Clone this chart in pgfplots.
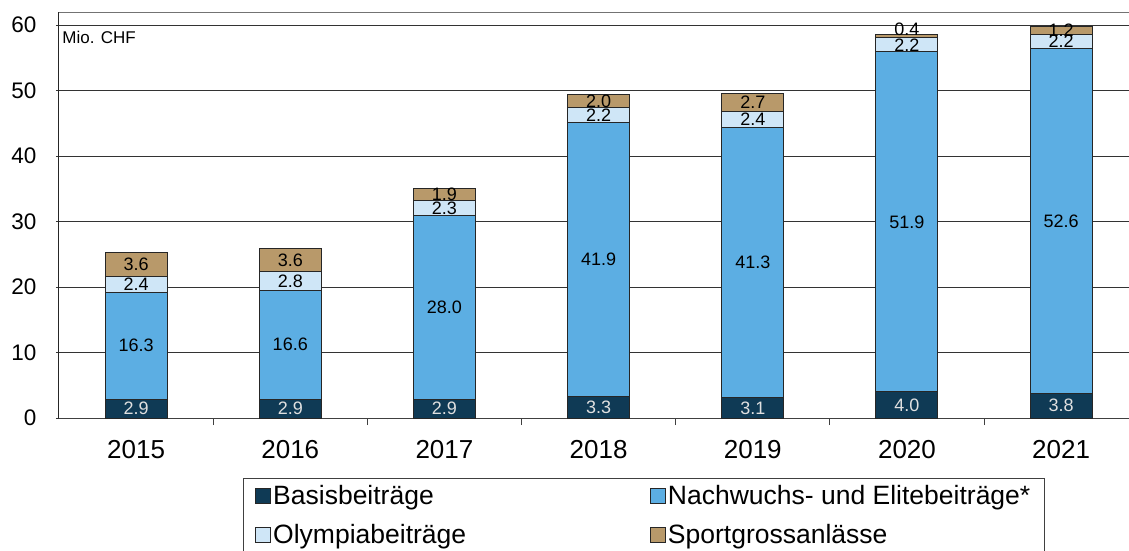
\documentclass[border=0pt]{standalone}
\usepackage{fontspec}
\setmainfont{Liberation Sans}
\usepackage{pgfplots}
\pgfplotsset{compat=1.18}
\definecolor{cBasis}{HTML}{0F3A55}
\definecolor{cNach}{HTML}{5CAEE3}
\definecolor{cOly}{HTML}{CFE6F7}
\definecolor{cSport}{HTML}{B8996A}
\begin{document}
\begin{tikzpicture}
\useasboundingbox (-59pt,-132pt) rectangle (1070pt,418pt);
\pgfplotsset{
  common/.style={
    at={(0pt,0pt)}, anchor=south west,
    scale only axis, width=1070pt, height=406pt,
    xmin=-0.5, xmax=6.44, ymin=0, ymax=62,
  }
}
\begin{axis}[
  common,
  ybar stacked, bar width=62pt,
  axis x line*=bottom, axis y line*=left,
  x axis line style={draw=black!75, line width=1pt, -},
  y axis line style={draw=black!85, line width=1pt, -},
  xtick={0,...,6},
  xticklabels={2015,2016,2017,2018,2019,2020,2021},
  major x tick style={draw=none},
  minor xtick={0.5,1.5,...,5.5},
  minor x tick style={draw=black!75, line width=1pt},
  minor tick length=7pt,
  tick align=outside,
  ytick={0,10,...,60},
  major y tick style={draw=black!80, line width=1pt},
  major tick length=3pt,
  ymajorgrids, grid style={draw=black!80, line width=0.9pt},
  extra y ticks={62}, extra y tick labels={},
  extra y tick style={grid=major, major grid style={draw=black!55, line width=1pt}, major tick length=0pt},
  /pgf/number format/assume math mode=true,
  yticklabel style={xshift=-16pt, font=\fontsize{22.5}{27}\selectfont},
  xticklabel style={yshift=-16pt, font=\fontsize{26}{31}\selectfont},
  legend columns=2,
  legend cell align=left,
  legend style={at={(0.172,-0.148)}, anchor=north west, draw=black!75, line width=0.8pt,
    font=\fontsize{26.5}{31}\selectfont, inner xsep=12pt, inner ysep=5pt,
    nodes={inner xsep=2pt},
    /tikz/every even column/.append style={column sep=182pt},
    row sep=14pt},
  legend image code/.code={\draw[#1, draw=black!85, line width=0.8pt] (0pt,-7.5pt) rectangle (15pt,7.5pt);},
  clip=false,
]
\addplot[fill=cBasis, draw=black!85, line width=1pt] coordinates {(0,2.9) (1,2.9) (2,2.9) (3,3.3) (4,3.1) (5,4.0) (6,3.8)};
\addlegendentry{Basisbeiträge}
\addplot[fill=cNach, draw=black!85, line width=1pt] coordinates {(0,16.3) (1,16.6) (2,28.0) (3,41.9) (4,41.3) (5,51.9) (6,52.6)};
\addlegendentry{Nachwuchs- und Elitebeiträge*}
\addplot[fill=cOly, draw=black!85, line width=1pt] coordinates {(0,2.4) (1,2.8) (2,2.3) (3,2.2) (4,2.4) (5,2.2) (6,2.2)};
\addlegendentry{Olympiabeiträge}
\addplot[fill=cSport, draw=black!85, line width=1pt] coordinates {(0,3.6) (1,3.6) (2,1.9) (3,2.0) (4,2.7) (5,0.4) (6,1.2)};
\addlegendentry{Sportgrossanlässe}
\node[anchor=west, inner sep=0pt, font=\fontsize{17}{20}\selectfont] at (rel axis cs:0.003,0.937) {Mio. CHF};
\end{axis}
\begin{axis}[
  common, hide axis,
  nodes near coords, point meta=explicit symbolic,
  every node near coord/.append style={anchor=center, font=\fontsize{18}{21}\selectfont, inner sep=0pt},
]
\addplot[draw=none, mark=none, every node near coord/.append style={text=black!12}] coordinates {
 (0,1.45)[2.9] (1,1.45)[2.9] (2,1.45)[2.9] (3,1.65)[3.3] (4,1.55)[3.1] (5,2.0)[4.0] (6,1.9)[3.8]};
\addplot[draw=none, mark=none, every node near coord/.append style={text=black}] coordinates {
 (0,11.05)[16.3] (1,11.2)[16.6] (2,16.9)[28.0] (3,24.25)[41.9] (4,23.75)[41.3] (5,29.95)[51.9] (6,30.1)[52.6]};
\addplot[draw=none, mark=none, every node near coord/.append style={text=black}] coordinates {
 (0,20.4)[2.4] (1,20.9)[2.8] (2,32.05)[2.3] (3,46.3)[2.2] (4,45.6)[2.4] (5,57.0)[2.2] (6,57.5)[2.2]};
\addplot[draw=none, mark=none, every node near coord/.append style={text=black}] coordinates {
 (0,23.4)[3.6] (1,24.1)[3.6] (2,34.15)[1.9] (3,48.4)[2.0] (4,48.15)[2.7] (5,59.3)[0.4] (6,59.2)[1.2]};
\end{axis}
\end{tikzpicture}
\end{document}
